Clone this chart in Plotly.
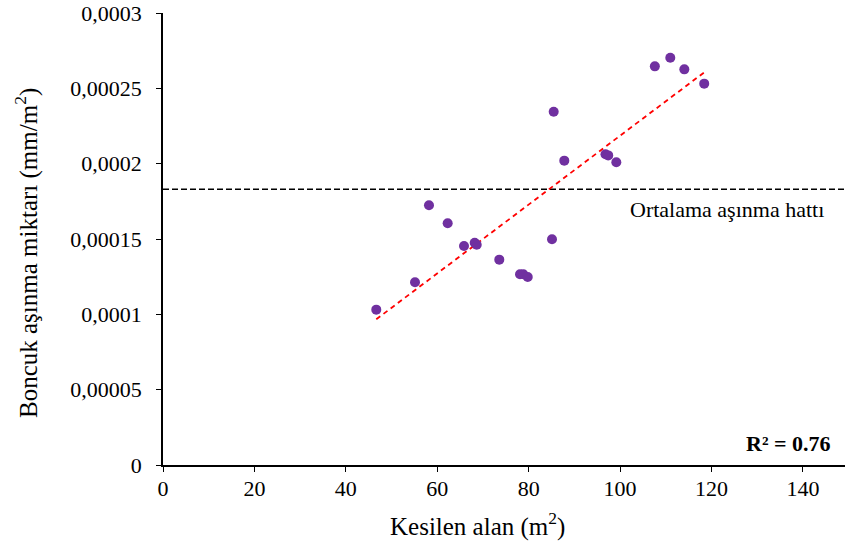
import plotly.graph_objects as go

# Data
cut_area = [46.66, 55.13, 58.19, 62.28, 65.85, 68.19, 68.63, 73.57, 78.10, 78.82,
            79.79, 85.10, 85.47, 87.79, 96.8, 97.4, 99.17, 107.6, 110.98, 114.05, 118.4]
wear = [0.0001031, 0.0001213, 0.0001724, 0.0001604, 0.0001454, 0.0001475, 0.0001462,
        0.0001363, 0.0001266, 0.0001266, 0.0001248, 0.0001498, 0.0002345, 0.0002020,
        0.0002063, 0.0002055, 0.0002009, 0.0002646, 0.0002703, 0.0002626, 0.0002531]

trend_x = [46.66, 118.4]
trend_y = [0.0000967, 0.0002606]

mean_wear = 0.000183
mean_x = [0, 150]

x_ticks = [0, 20, 40, 60, 80, 100, 120, 140]
y_ticks = [0, 0.00005, 0.0001, 0.00015, 0.0002, 0.00025, 0.0003]
y_tick_text = ["0", "0,00005", "0,0001", "0,00015", "0,0002", "0,00025", "0,0003"]

FONT = "Liberation Serif, Times New Roman, serif"

W, H = 845, 548
L, R, T, B = 163, 0, 13, 548 - 465
pw, ph = W - L - R, H - T - B

def px(xp):
    return (xp - L) / pw

def py(yp):
    return (H - B - yp) / ph

fig = go.Figure()
fig.add_trace(go.Scatter(x=mean_x, y=[mean_wear, mean_wear], mode="lines",
                         line=dict(color="black", width=1.4, dash="6px,3px"),
                         showlegend=False, hoverinfo="skip"))
fig.add_trace(go.Scatter(x=trend_x, y=trend_y, mode="lines",
                         line=dict(color="#FF0000", width=1.8, dash="5px,4px"),
                         showlegend=False, hoverinfo="skip"))
fig.add_trace(go.Scatter(x=cut_area, y=wear, mode="markers",
                         marker=dict(color="#7030A0", size=10),
                         showlegend=False))

axis_common = dict(showgrid=False, zeroline=False, showline=True, linecolor="black",
                   linewidth=1.5, ticks="outside", ticklen=5, tickwidth=1.2,
                   tickcolor="black", ticklabeloverflow="allow",
                   tickfont=dict(family=FONT, size=22, color="black"))

fig.update_layout(
    width=W, height=H,
    margin=dict(l=L, r=R, t=T, b=B),
    paper_bgcolor="white", plot_bgcolor="white",
    font=dict(family=FONT, size=22, color="black"),
    xaxis=dict(range=[0, 149.2], tickvals=x_ticks, ticktext=[str(v) for v in x_ticks],
               ticklabelstandoff=-2, **axis_common),
    yaxis=dict(range=[0, 0.0003], tickvals=y_ticks, ticktext=y_tick_text,
               ticklabelstandoff=10, **axis_common),
    annotations=[
        dict(text="Kesilen alan (m<sup>2</sup>)", x=px(477), y=py(524),
             xref="paper", yref="paper", xanchor="center", yanchor="middle",
             showarrow=False, font=dict(family=FONT, size=25)),
        dict(text="Boncuk aşınma miktarı (mm/m<sup>2</sup>)", x=px(27), y=py(253),
             xref="paper", yref="paper", xanchor="center", yanchor="middle",
             showarrow=False, textangle=-90, font=dict(family=FONT, size=25)),
        dict(text="Ortalama aşınma hattı", x=px(727), y=py(210),
             xref="paper", yref="paper", xanchor="center", yanchor="middle",
             showarrow=False, font=dict(family=FONT, size=22)),
        dict(text="<b>R² = 0.76</b>", x=px(833), y=py(443),
             xref="paper", yref="paper", xanchor="right", yanchor="middle",
             showarrow=False, font=dict(family=FONT, size=22)),
    ],
)

fig.write_html("out.html", config={"displayModeBar": False},
               post_script="document.body.style.margin='0';document.body.style.overflow='hidden';")
